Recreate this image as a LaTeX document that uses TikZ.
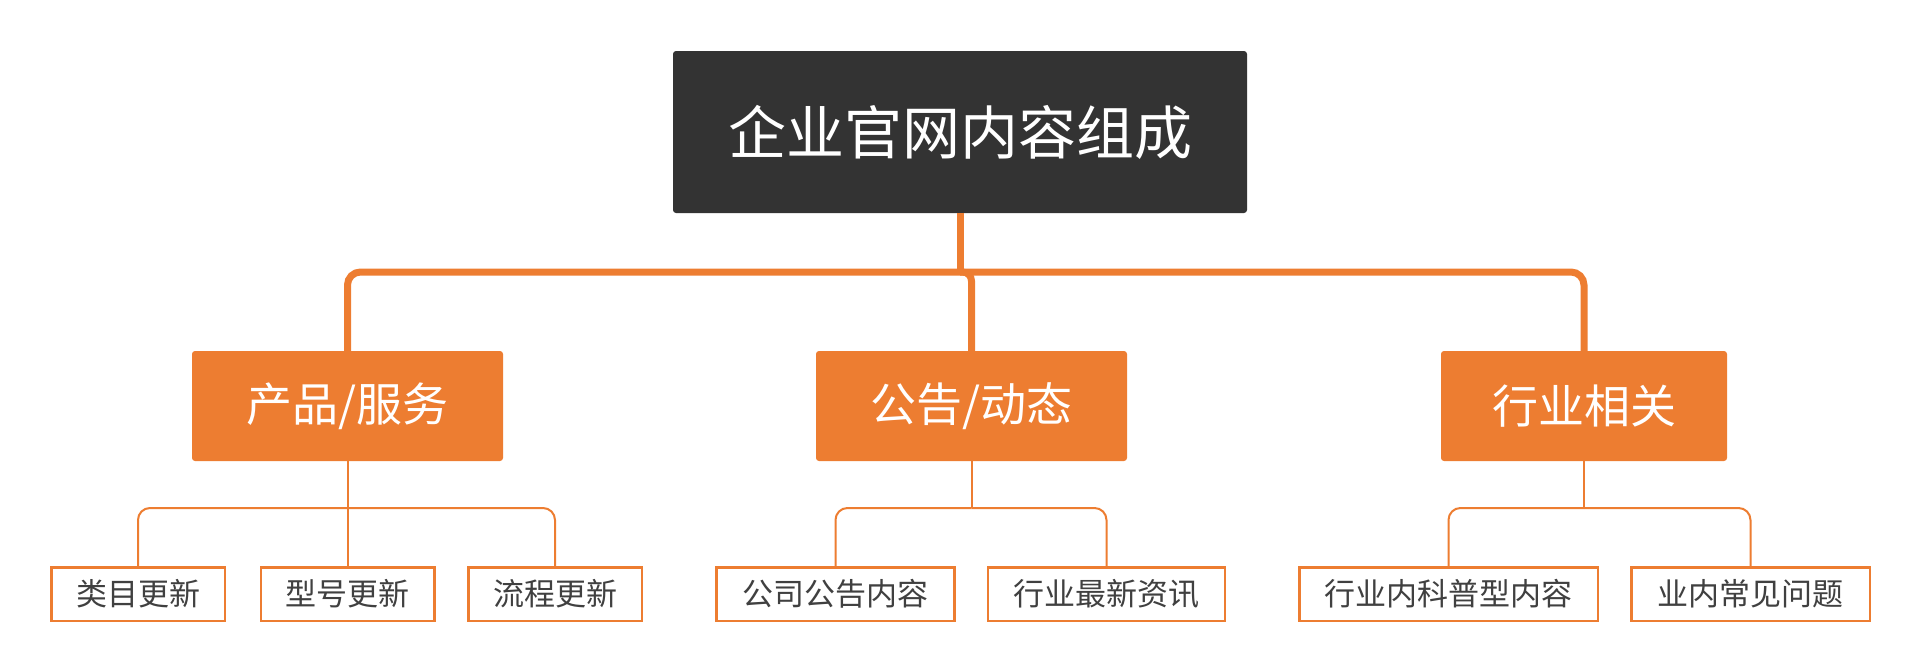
\documentclass[tikz,border=0pt]{standalone}
\usepackage{fontspec}
\setmainfont{Noto Sans CJK SC}
\definecolor{orng}{HTML}{ED7D31}
\definecolor{darkbox}{HTML}{333333}
\definecolor{txtgray}{HTML}{404040}
\begin{document}
\begin{tikzpicture}[x=1pt,y=-1pt,
  rootbox/.style={fill=darkbox, rounded corners=3pt, text=white, minimum width=574pt, minimum height=162pt, inner sep=0pt, font=\fontsize{58}{58}\selectfont},
  catbox/.style={fill=orng, rounded corners=3pt, text=white, minimum height=110pt, inner sep=0pt, font=\fontsize{46}{46}\selectfont},
  leafbox/.style={draw=orng, line width=2.5pt, fill=white, text=txtgray, minimum height=53.5pt, inner sep=0pt, font=\fontsize{31}{31}\selectfont},
  thickconn/.style={draw=orng, line width=7pt},
  thinconn/.style={draw=orng, line width=2pt},
]
\useasboundingbox (0,0) rectangle (1920,672);

% nodes
\node[rootbox] (root) at (960,132) {企业官网内容组成};

\node[catbox, minimum width=311pt] (A) at (347.5,406) {产品/服务};
\node[catbox, minimum width=311pt] (B) at (971.5,406) {公告/动态};
\node[catbox, minimum width=286pt] (C) at (1584,406) {行业相关};

\node[leafbox, minimum width=173.5pt] (a1) at (138,594) {类目更新};
\node[leafbox, minimum width=173.5pt] (a2) at (347.5,594) {型号更新};
\node[leafbox, minimum width=173.5pt] (a3) at (555,594) {流程更新};
\node[leafbox, minimum width=238pt] (b1) at (835.5,594) {公司公告内容};
\node[leafbox, minimum width=237pt] (b2) at (1106.5,594) {行业最新资讯};
\node[leafbox, minimum width=298.5pt] (c1) at (1448.5,594) {行业内科普型内容};
\node[leafbox, minimum width=238.5pt] (c2) at (1750.5,594) {业内常见问题};

% main connectors
\coordinate (J) at (root.south |- 0,272);
\draw[thickconn] (root.south) -- (J);
\draw[thickconn, rounded corners=13pt] (J) -| (A.north);
\draw[thickconn, rounded corners=9pt] (J) -| (B.north);
\draw[thickconn, rounded corners=13pt] (J) -| (C.north);

% leaf connectors
\coordinate (jA) at (A.south |- 0,508);
\draw[thinconn] (A.south) -- (jA);
\draw[thinconn, rounded corners=12pt] (jA) -| (a1.north);
\draw[thinconn] (jA) -- (a2.north);
\draw[thinconn, rounded corners=12pt] (jA) -| (a3.north);

\coordinate (jB) at (B.south |- 0,508);
\draw[thinconn] (B.south) -- (jB);
\draw[thinconn, rounded corners=12pt] (jB) -| (b1.north);
\draw[thinconn, rounded corners=12pt] (jB) -| (b2.north);

\coordinate (jC) at (C.south |- 0,508);
\draw[thinconn] (C.south) -- (jC);
\draw[thinconn, rounded corners=12pt] (jC) -| (c1.north);
\draw[thinconn, rounded corners=12pt] (jC) -| (c2.north);
\end{tikzpicture}
\end{document}
